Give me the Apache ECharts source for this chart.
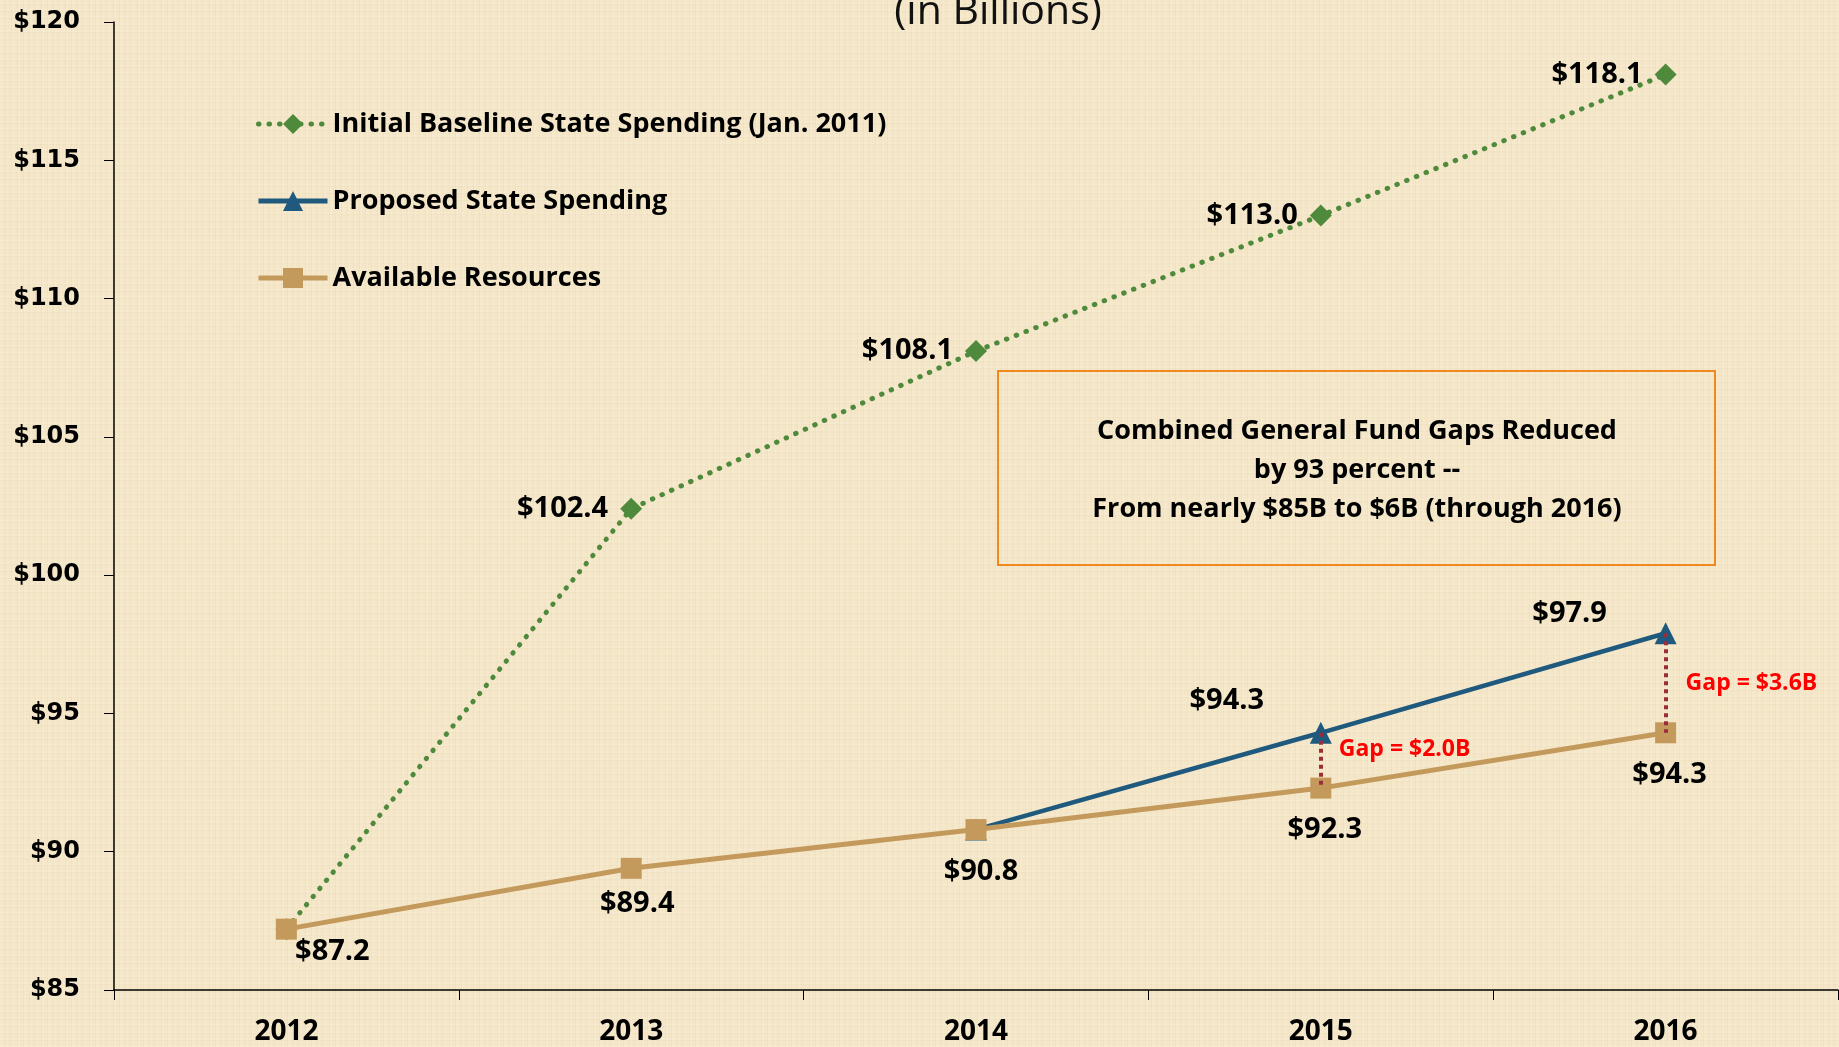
<!DOCTYPE html>
<html>
<head>
<meta charset="utf-8">
<title>State Spending</title>
<script src="https://cdn.jsdelivr.net/npm/echarts@6/dist/echarts.min.js"></script>
<style>
  html, body { margin: 0; padding: 0; }
  body {
    width: 1839px; height: 1047px; overflow: hidden;
    background-color: #f4e6c7;
    background-image:
      repeating-linear-gradient(90deg, rgba(255,255,255,0.10) 0 2px, rgba(0,0,0,0) 2px 5px, rgba(180,150,100,0.06) 5px 6px),
      repeating-linear-gradient(0deg, rgba(255,255,255,0.08) 0 2px, rgba(0,0,0,0) 2px 6px, rgba(180,150,100,0.05) 6px 7px);
  }
  #main { width: 1839px; height: 1047px; }
</style>
</head>
<body>
<div id="main"></div>
<script>
var years = ["2012", "2013", "2014", "2015", "2016"];
var baseline = [87.2, 102.4, 108.1, 113.0, 118.1];
var proposed = [null, null, 90.8, 94.3, 97.9];
var available = [87.2, 89.4, 90.8, 92.3, 94.3];
var yMin = 85, yMax = 120, yStep = 5;
var gapIndex = [3, 4];
var gapText = ["Gap = $2.0B", "Gap = $3.6B"];
var noteLines = [
  "Combined General Fund Gaps Reduced",
  "by 93 percent --",
  "From nearly $85B to $6B (through 2016)"
];

// label placement (pixels), kept apart from the values
var availOffsets = [[46, 23], [6, 35], [5, 42], [4, 42], [4, 42]];
var propOffsets = [null, null, null, [-94, -32], [-96, -19]];
var gapOffsets = [[18, -11], [20, 0]];

var labelSize = 29;
function money(p) { return "$" + p.value.toFixed(1); }

var myChart = echarts.init(document.getElementById("main"));

var option = {
  backgroundColor: "transparent",
  animation: false,
  grid: { left: 114, right: 1, top: 22, bottom: 57, containLabel: false },
  legend: {
    data: ["Initial Baseline State Spending (Jan. 2011)", "Proposed State Spending", "Available Resources"],
    orient: "vertical",
    left: 251,
    top: 104,
    itemWidth: 69,
    itemHeight: 25,
    itemGap: 47,
    lineStyle: { width: 5 },
    textStyle: { fontFamily: "Open Sans", fontWeight: "bold", fontSize: 27, color: "#000", lineHeight: 30 }
  },
  xAxis: {
    type: "category",
    data: years,
    boundaryGap: true,
    axisLine: { lineStyle: { color: "#000", width: 1.5 } },
    axisTick: { show: true, inside: false, length: 10, lineStyle: { color: "#000" } },
    axisLabel: { margin: 28, fontFamily: "Open Sans", fontWeight: "bold", fontSize: 28, color: "#000" },
    splitLine: { show: false }
  },
  yAxis: {
    type: "value",
    min: yMin,
    max: yMax,
    interval: yStep,
    axisLine: { show: true, lineStyle: { color: "#000", width: 1.5 } },
    axisTick: { show: true, length: 10, lineStyle: { color: "#000" } },
    axisLabel: {
      margin: 34,
      fontFamily: "DejaVu Sans",
      fontWeight: "bold",
      fontSize: 24,
      color: "#000",
      formatter: function (v) { return "$" + v; }
    },
    splitLine: { show: false }
  },
  series: [
    {
      name: "Initial Baseline State Spending (Jan. 2011)",
      type: "line",
      data: baseline,
      symbol: "diamond",
      symbolSize: 22,
      itemStyle: { color: "#4f8a3c" },
      lineStyle: { color: "#4f8a3c", width: 5, type: [0.5, 10], cap: "round" },
      label: {
        show: true,
        position: "left",
        distance: 12,
        formatter: function (p) { return p.dataIndex === 0 ? "" : money(p); },
        fontFamily: "Open Sans", fontWeight: "bold", fontSize: labelSize, color: "#000"
      },
      z: 2
    },
    {
      name: "Proposed State Spending",
      type: "line",
      data: proposed.map(function (v, i) {
        return propOffsets[i]
          ? { value: v, label: { show: true, offset: propOffsets[i] } }
          : { value: v, label: { show: false } };
      }),
      symbol: "triangle",
      symbolSize: 22,
      itemStyle: { color: "#1f5a7e" },
      lineStyle: { color: "#1f5a7e", width: 4.5 },
      label: {
        position: "inside",
        formatter: money,
        fontFamily: "Open Sans", fontWeight: "bold", fontSize: labelSize, color: "#000"
      },
      z: 3
    },
    {
      name: "Available Resources",
      type: "line",
      data: available.map(function (v, i) {
        return { value: v, label: { offset: availOffsets[i] } };
      }),
      symbol: "rect",
      symbolSize: 21,
      itemStyle: { color: "#c49a5c" },
      lineStyle: { color: "#c49a5c", width: 5 },
      label: {
        show: true,
        position: "inside",
        formatter: money,
        fontFamily: "Open Sans", fontWeight: "bold", fontSize: labelSize, color: "#000"
      },
      markLine: {
        silent: true,
        symbol: "none",
        label: { show: false },
        lineStyle: { color: "#9b2d3a", width: 4, type: [4, 4] },
        data: gapIndex.map(function (i) {
          return [{ coord: [years[i], proposed[i]] }, { coord: [years[i], available[i]] }];
        }),
        z: 10
      },
      z: 4
    }
  ]
};
myChart.setOption(option);

// text placed from the chart's own scales
var graphics = [];
gapIndex.forEach(function (idx, k) {
  var mid = (proposed[idx] + available[idx]) / 2;
  var pt = myChart.convertToPixel({ gridIndex: 0 }, [idx, mid]);
  graphics.push({
    type: "text",
    x: pt[0] + gapOffsets[k][0],
    y: pt[1] + gapOffsets[k][1],
    z: 20,
    style: {
      text: gapText[k],
      fill: "#ff0000",
      font: "bold 23px 'Open Sans'",
      textAlign: "left",
      textVerticalAlign: "middle"
    }
  });
});

graphics.push({
  type: "text",
  x: 998,
  y: 12,
  style: {
    text: "(in Billions)",
    fill: "#111",
    font: "41px 'Open Sans'",
    textAlign: "center",
    textVerticalAlign: "middle"
  }
});

graphics.push({
  type: "rect",
  shape: { x: 998, y: 371, width: 717, height: 194 },
  style: { fill: "rgba(0,0,0,0)", stroke: "#f08a1e", lineWidth: 2 }
});
graphics.push({
  type: "text",
  x: 1357,
  y: 470,
  style: {
    text: noteLines.join("\n"),
    fill: "#000",
    font: "bold 27px 'Open Sans'",
    lineHeight: 39,
    textAlign: "center",
    textVerticalAlign: "middle"
  }
});

myChart.setOption({ graphic: graphics });
</script>
</body>
</html>
